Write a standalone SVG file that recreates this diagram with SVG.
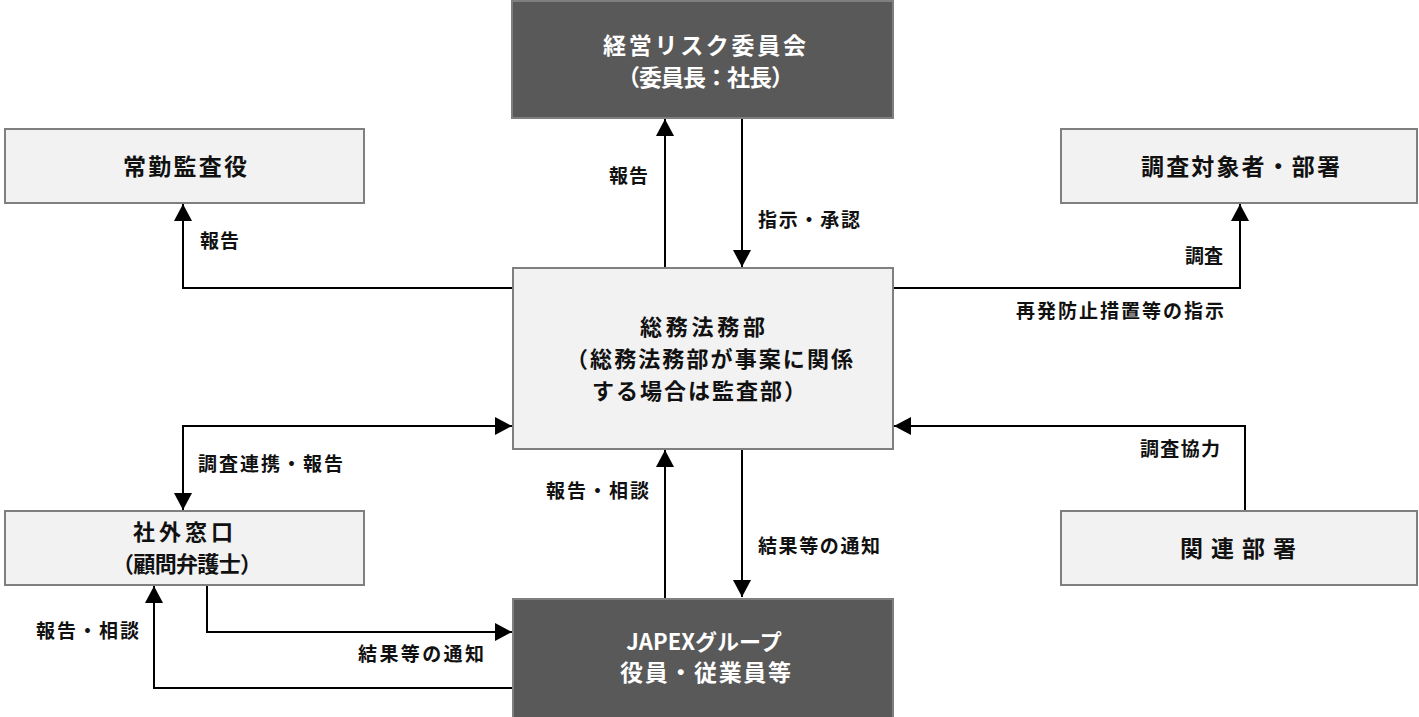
<svg xmlns="http://www.w3.org/2000/svg" width="1419" height="717" viewBox="0 0 1419 717">
<style>
.box{fill:#f2f2f2;stroke:#7f7f7f;stroke-width:2}
.dark{fill:#595959;stroke:#7f7f7f;stroke-width:2}
.t{font-family:"Noto Sans CJK JP","Noto Sans",sans-serif;font-weight:bold;font-size:23px;fill:#111}
.tm{font-family:"Noto Sans CJK JP","Noto Sans",sans-serif;font-weight:bold;font-size:22px;fill:#111}
.tw{font-family:"Noto Sans CJK JP","Noto Sans",sans-serif;font-weight:bold;font-size:23px;fill:#fff}
.l{font-family:"Noto Sans CJK JP","Noto Sans",sans-serif;font-weight:bold;font-size:19px;fill:#111}
.c{fill:none;stroke:#000;stroke-width:2}
</style>
<defs>
<marker id="ah" markerUnits="userSpaceOnUse" markerWidth="18" markerHeight="18" refX="17" refY="9" orient="auto-start-reverse" viewBox="0 0 17 18">
<path d="M0,0 L17,9 L0,18 z" fill="#000"/>
</marker>
</defs>
<rect width="1419" height="717" fill="#fff"/>
<g id="connectors">
<path class="c" d="M665,268 V119" marker-end="url(#ah)"/>
<path class="c" d="M742,119 V267" marker-end="url(#ah)"/>
<path class="c" d="M513,288 H183 V204" marker-end="url(#ah)"/>
<path class="c" d="M893,288 H1240 V204" marker-end="url(#ah)"/>
<path class="c" d="M512,426 H183 V510" marker-start="url(#ah)" marker-end="url(#ah)"/>
<path class="c" d="M1245,511 V426 H894" marker-end="url(#ah)"/>
<path class="c" d="M665,598 V450" marker-end="url(#ah)"/>
<path class="c" d="M742,450 V597" marker-end="url(#ah)"/>
<path class="c" d="M207,585 V632 H512" marker-end="url(#ah)"/>
<path class="c" d="M513,688 H154 V586" marker-end="url(#ah)"/>
<text class="l" x="609" y="183" textLength="39" lengthAdjust="spacing">報告</text>
<text class="l" x="758" y="227" textLength="102" lengthAdjust="spacing">指示・承認</text>
<text class="l" x="200" y="248" textLength="39" lengthAdjust="spacing">報告</text>
<text class="l" x="1185" y="263" textLength="38" lengthAdjust="spacing">調査</text>
<text class="l" x="1016" y="318" textLength="208" lengthAdjust="spacing">再発防止措置等の指示</text>
<text class="l" x="198" y="471" textLength="145" lengthAdjust="spacing">調査連携・報告</text>
<text class="l" x="1140" y="456" textLength="80" lengthAdjust="spacing">調査協力</text>
<text class="l" x="546" y="498" textLength="103" lengthAdjust="spacing">報告・相談</text>
<text class="l" x="758" y="553" textLength="122" lengthAdjust="spacing">結果等の通知</text>
<text class="l" x="36" y="638" textLength="103" lengthAdjust="spacing">報告・相談</text>
<text class="l" x="358" y="661" textLength="126" lengthAdjust="spacing">結果等の通知</text>
</g>
<g id="risk-committee">
<rect class="dark" x="512" y="1" width="381" height="117"/>
<text class="tw"><tspan x="603" y="54" textLength="203" lengthAdjust="spacing">経営リスク委員会</tspan><tspan x="617" y="86" textLength="177" lengthAdjust="spacing">（委員長：社長）</tspan></text>
</g>
<g id="auditor">
<rect class="box" x="5" y="129" width="359" height="74"/>
<text class="t" x="123" y="175" textLength="124" lengthAdjust="spacing">常勤監査役</text>
</g>
<g id="investigated">
<rect class="box" x="1061" y="129" width="356" height="74"/>
<text class="t" x="1141" y="175" textLength="199" lengthAdjust="spacing">調査対象者・部署</text>
</g>
<g id="general-affairs">
<rect class="box" x="513" y="268" width="380" height="181"/>
<text class="tm"><tspan x="640" y="335" textLength="125" lengthAdjust="spacing">総務法務部</tspan><tspan x="566" y="367" textLength="287" lengthAdjust="spacing">（総務法務部が事案に関係</tspan><tspan x="592" y="399" textLength="214" lengthAdjust="spacing">する場合は監査部）</tspan></text>
</g>
<g id="external">
<rect class="box" x="5" y="511" width="359" height="74"/>
<text class="tm"><tspan x="133" y="540" textLength="100" lengthAdjust="spacing">社外窓口</tspan><tspan x="112" y="572" textLength="150" lengthAdjust="spacing">（顧問弁護士）</tspan></text>
</g>
<g id="related">
<rect class="box" x="1061" y="511" width="356" height="74"/>
<text class="t" x="1180" y="557" textLength="116" lengthAdjust="spacing">関連部署</text>
</g>
<g id="japex">
<rect class="dark" x="513" y="599" width="380" height="120"/>
<text class="tw"><tspan x="704" y="650" text-anchor="middle" font-size="22">JAPEXグループ</tspan><tspan x="620" y="681" textLength="171" lengthAdjust="spacing">役員・従業員等</tspan></text>
</g>
</svg>
